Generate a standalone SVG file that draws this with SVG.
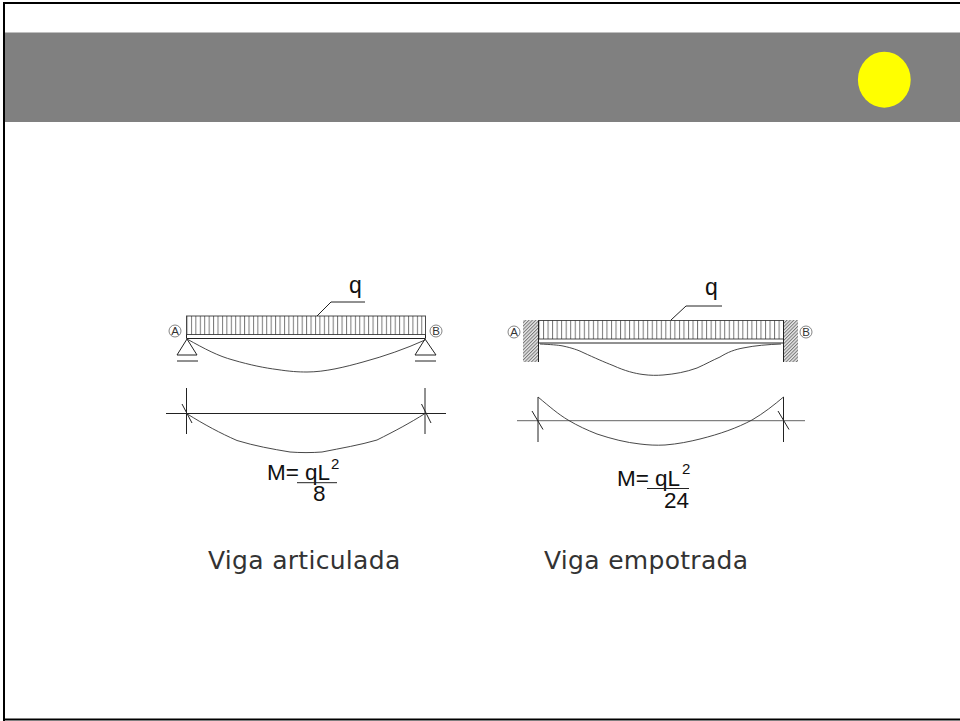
<svg xmlns="http://www.w3.org/2000/svg" width="960" height="721" viewBox="0 0 960 721">
<style>
.l{fill:none;stroke:#222;stroke-width:1}
.c{fill:none;stroke:#333;stroke-width:.9}
.t{font-family:"Liberation Sans",Arial,sans-serif;fill:#111}
.f{font-size:22.500px}
.s{font-size:15px}
.q{font-size:23px}
.m{font-size:11.500px;fill:#333}
.lab{font-family:"DejaVu Sans",Verdana,sans-serif;font-size:25px;letter-spacing:.3px;fill:#333}
.o{fill:#fff;stroke:#666;stroke-width:.8}
</style>
<defs>
<pattern id="tick" patternUnits="userSpaceOnUse" x="186.500" y="0" width="4.430" height="10"><rect x="0" y="0" width="1" height="10" fill="#777"/></pattern>
<pattern id="tick2" patternUnits="userSpaceOnUse" x="538.500" y="0" width="4.530" height="10"><rect x="0" y="0" width="1" height="10" fill="#777"/></pattern>
<pattern id="wall" patternUnits="userSpaceOnUse" width="2.400" height="2.400" patternTransform="rotate(-45)"><rect width="2.400" height="2.400" fill="#e8e8e8"/><rect width="2.400" height="1" fill="#777"/></pattern>
</defs>
<rect width="960" height="721" fill="#fff"/>
<g id="frame"><path d="M4 721V3H960M4 719.500H960" fill="none" stroke="#000" stroke-width="2"/></g>
<g id="banner"><rect x="5" y="32.500" width="955" height="89.500" fill="#808080"/><ellipse cx="884.300" cy="79.700" rx="26.400" ry="28" fill="#ff0"/></g>
<g id="viga-articulada">
<rect x="186.500" y="316" width="239" height="18.500" fill="url(#tick)"/>
<rect x="186.500" y="316" width="239" height="18.500" class="l" stroke-opacity=".8"/>
<path class="l" d="M186.500 334.500V338.500H425.500V334.500"/>
<path class="l" d="M187 339L177 355H197ZM177 361H198M425 339L415 355H436ZM415 361H436"/>
<path class="c" d="M187 339C205 349 218 356 233 360C250 365 265 368 277 369.500C290 371.500 298 372 307 372C325 372 345 367 363 362C385 356 405 349 425 340"/>
<path class="l" d="M317 316L331 302H365"/>
<text class="t q" x="349" y="292.500">q</text>
<circle class="o" cx="175" cy="331" r="6"/><text class="t m" x="175" y="335" text-anchor="middle">A</text>
<circle class="o" cx="436" cy="331" r="6"/><text class="t m" x="436" y="335" text-anchor="middle">B</text>
<path class="l" d="M166 413.500H446M186.500 388V434M425 388V434M182 404L192 423M421.500 404L431 423"/>
<path class="c" d="M186.500 413.500C205 425 220 433 237 440.500C255 446 272 449 290 452C300 452.800 312 452.800 322 452C342 448 360 445 377 440C395 431 410 423 425 413.500"/>
<text class="t f" x="267" y="480">M=</text>
<text class="t f" x="305" y="480">qL</text>
<text class="t s" x="331" y="469">2</text>
<path class="l" d="M297 482.700H337"/>
<text class="t f" x="313" y="501">8</text>
</g>
<g id="viga-empotrada">
<rect x="523" y="320" width="15" height="42" fill="url(#wall)"/>
<rect x="784" y="320" width="14" height="42" fill="url(#wall)"/>
<rect x="538.500" y="320.500" width="245" height="18.500" fill="url(#tick2)"/>
<rect x="538.500" y="320.500" width="245" height="18.500" class="l" stroke-opacity=".8"/>
<path class="l" d="M538.500 320.500V362M783.500 320.500V362M538.500 343H783.500"/>
<path class="c" d="M540 344C550 344.500 558 345 563 346C572 348 578 350 583 352.500C595 358 604 362 613 365.500C625 371 635 373.500 643 374.500C650 375.500 657 375.500 663 375C675 374 686 372 697 368C706 364 713 360 720 357C728 352 735 349.500 743 348C755 345.500 768 344.500 781 344"/>
<path class="l" d="M671 320L686 306H722"/>
<text class="t q" x="705" y="295">q</text>
<circle class="o" cx="514" cy="332" r="6"/><text class="t m" x="514" y="336" text-anchor="middle">A</text>
<circle class="o" cx="806" cy="332" r="6"/><text class="t m" x="806" y="336" text-anchor="middle">B</text>
<path class="l" d="M517 420.700H805" stroke-opacity=".7"/>
<path class="l" d="M538 397V442M783.500 397V442M532 411L543 429.500M778 411L789 429.500"/>
<path class="c" d="M538 397C550 407 558 414 568 420C578 426 587 430 597 434C612 439 626 442.500 640 444C648 445 656 445.500 665 445C678 444 690 441.500 700 439C720 434 737 428 752 420C764 413 774 405 783.500 397"/>
<text class="t f" x="617" y="486">M=</text>
<text class="t f" x="655" y="486">qL</text>
<text class="t s" x="682" y="474">2</text>
<path class="l" d="M647 488.500H689"/>
<text class="t f" x="664" y="508">24</text>
</g>
<g id="labels">
<text class="lab" x="208" y="569">Viga articulada</text>
<text class="lab" x="544" y="569">Viga empotrada</text>
</g>
</svg>
